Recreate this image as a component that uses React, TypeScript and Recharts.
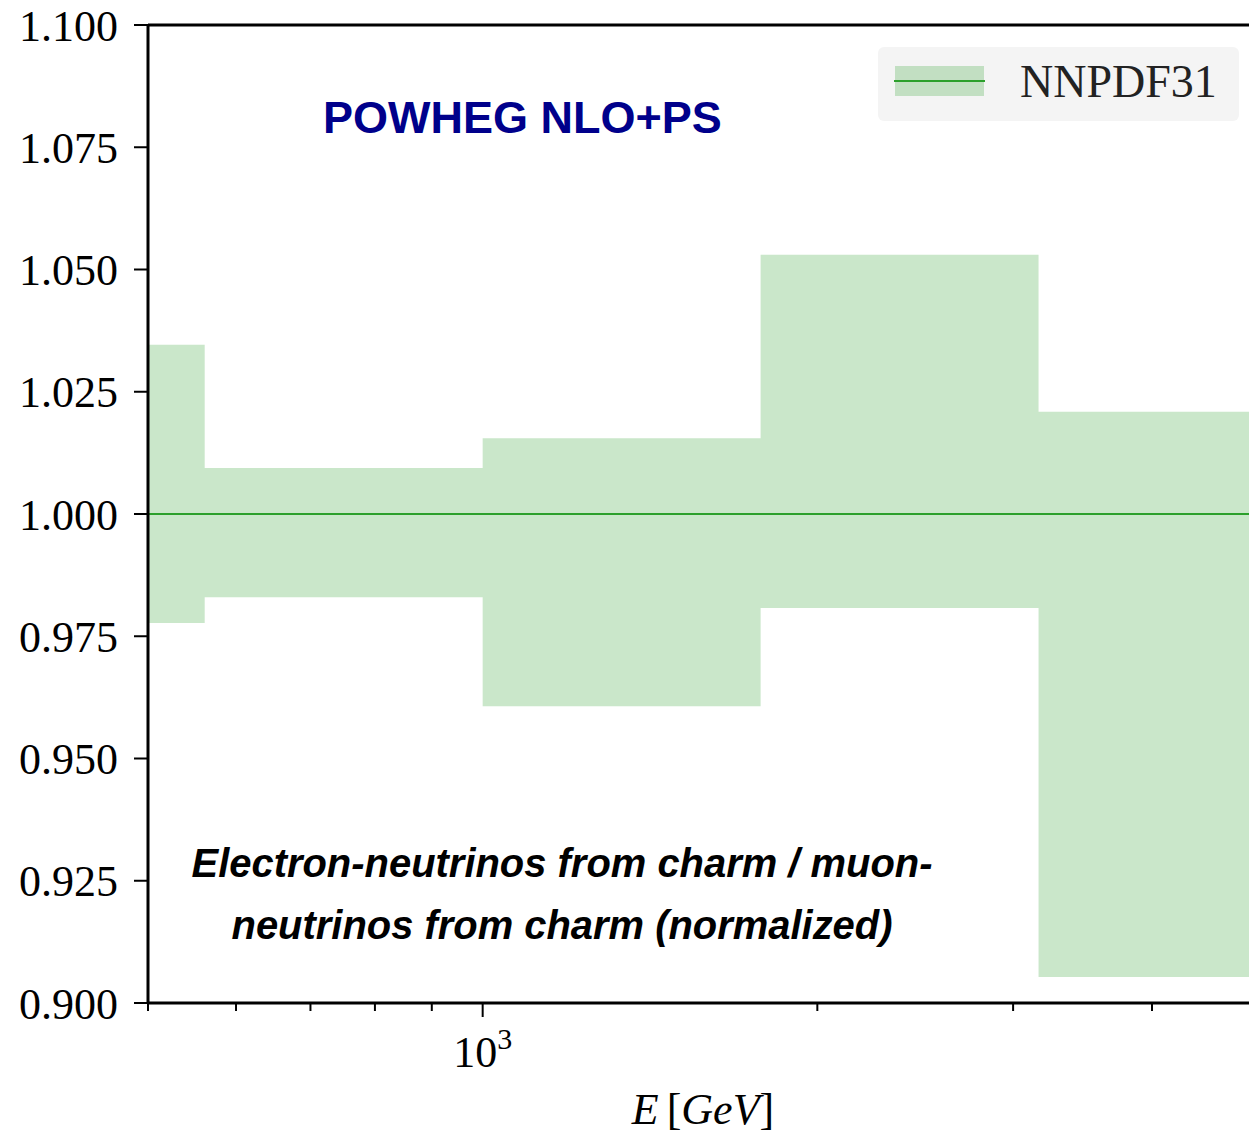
import { ComposedChart, Area, Line, XAxis, YAxis, ReferenceLine } from 'recharts';

// quarter-decade energy bins (GeV), last entry repeated to close the step
const binEdges = [316.2, 562.3, 1000, 1778.3, 3162.3, 5623.4];
const bandLow = [0.9777, 0.983, 0.9607, 0.9808, 0.9053, 0.9053];
const bandHigh = [1.0346, 1.0094, 1.0155, 1.053, 1.0209, 1.0209];
const central = [1, 1, 1, 1, 1, 1];

const yTicks = [0.9, 0.925, 0.95, 0.975, 1.0, 1.025, 1.05, 1.075, 1.1];
const xTicks = [500, 600, 700, 800, 900, 1000, 2000, 3000, 4000];
const majorX = [1000];

const seriesName = 'NNPDF31';
const title = 'POWHEG NLO+PS';
const noteLines = ['Electron-neutrinos from charm / muon-', 'neutrinos from charm (normalized)'];

const data = binEdges.map((e, i) => ({
  e,
  band: [bandLow[i], bandHigh[i]],
  central: central[i],
}));

const GREEN = '#2ca02c';
const SERIF = '"Liberation Serif", "DejaVu Serif", serif';
const SANS = '"Liberation Sans", Arial, sans-serif';

function XTick(props: any) {
  const { x, y, payload } = props;
  const major = majorX.includes(payload.value);
  return (
    <g>
      <line x1={x} x2={x} y1={y} y2={y + (major ? 14 : 8)} stroke="#000" strokeWidth={2} />
      {major && (
        <text x={x} y={y + 64} textAnchor="middle" fontFamily={SERIF} fontSize={44} fill="#000">
          10
          <tspan dy={-18} fontSize={30}>3</tspan>
        </text>
      )}
    </g>
  );
}

// legend box in the upper right corner, drawn in chart pixels
function LegendBox() {
  return (
    <g transform="translate(878, 47)">
      <rect x={0} y={0} width={361} height={74} rx={6} fill="#f4f4f4" />
      <rect x={17} y={19} width={89} height={30} fill={GREEN} fillOpacity={0.25} />
      <line x1={16} x2={107} y1={34} y2={34} stroke={GREEN} strokeWidth={2} />
      <text x={142} y={50} fontFamily={SERIF} fontSize={46} fill="#222">
        {seriesName}
      </text>
    </g>
  );
}

export default function App() {
  return (
    <div style={{ position: 'absolute', left: 0, top: 0, background: '#fff' }}>
      <ComposedChart
        width={1249}
        height={1134}
        data={data}
        margin={{ top: 25, right: 0, bottom: 0, left: 0 }}
      >
        <XAxis
          dataKey="e"
          type="number"
          scale="log"
          domain={[500, 4890]}
          allowDataOverflow
          ticks={xTicks}
          tick={<XTick />}
          tickLine={false}
          tickSize={0}
          tickMargin={0}
          height={131}
          axisLine={{ stroke: '#000', strokeWidth: 3 }}
          interval={0}
        />
        <YAxis
          type="number"
          domain={[0.9, 1.1]}
          ticks={yTicks}
          allowDataOverflow
          width={148}
          tickSize={14}
          tickMargin={16}
          interval={0}
          tickFormatter={(v: number) => v.toFixed(3)}
          tick={{ fontFamily: SERIF, fontSize: 44, fill: '#000' }}
          tickLine={{ stroke: '#000', strokeWidth: 2 }}
          axisLine={{ stroke: '#000', strokeWidth: 3 }}
        />
        <Area
          dataKey="band"
          type="stepAfter"
          stroke="none"
          fill={GREEN}
          fillOpacity={0.25}
          isAnimationActive={false}
          dot={false}
          activeDot={false}
        />
        <Line
          dataKey="central"
          type="stepAfter"
          stroke={GREEN}
          strokeWidth={2}
          dot={false}
          activeDot={false}
          isAnimationActive={false}
        />
        <ReferenceLine y={1.1} stroke="#000" strokeWidth={3} />
        <LegendBox />
        <text x={323} y={133} fontFamily={SANS} fontWeight="bold" fontSize={45} fill="#00008b">
          {title}
        </text>
        <text
          x={562}
          y={877}
          textAnchor="middle"
          fontFamily={SANS}
          fontWeight="bold"
          fontStyle="italic"
          fontSize={40}
          textLength={741}
          lengthAdjust="spacingAndGlyphs"
          fill="#000"
        >
          {noteLines[0]}
        </text>
        <text
          x={562}
          y={939}
          textAnchor="middle"
          fontFamily={SANS}
          fontWeight="bold"
          fontStyle="italic"
          fontSize={40}
          textLength={661}
          lengthAdjust="spacingAndGlyphs"
          fill="#000"
        >
          {noteLines[1]}
        </text>
        <text x={703} y={1124} textAnchor="middle" fontFamily={SERIF} fontStyle="italic" fontSize={44} fill="#000">
          E
          <tspan dx={8} fontStyle="normal">[</tspan>
          <tspan>GeV</tspan>
          <tspan fontStyle="normal">]</tspan>
        </text>
      </ComposedChart>
    </div>
  );
}
